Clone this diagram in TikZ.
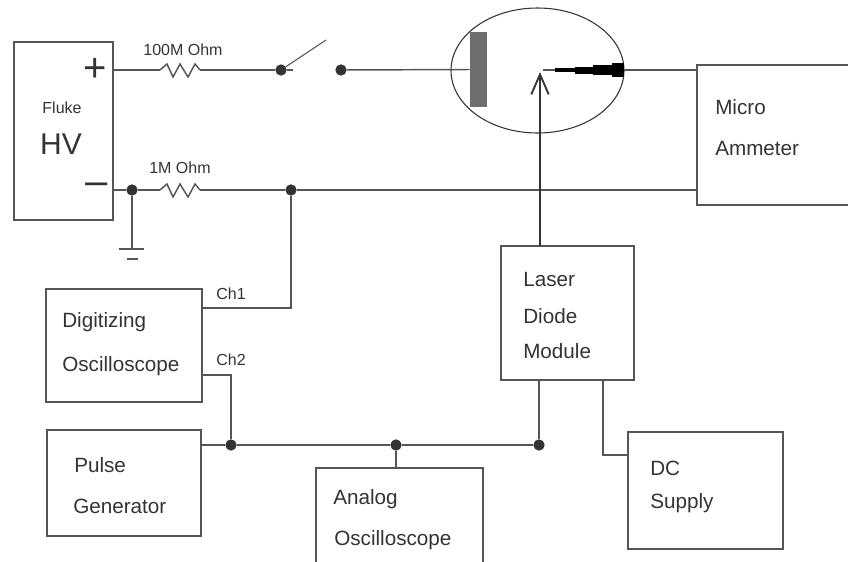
\documentclass[tikz,border=0pt]{standalone}
\usepackage{fontspec}
\setmainfont{Liberation Sans}
\usetikzlibrary{arrows.meta}
\usetikzlibrary{calc}
\usetikzlibrary{shapes.geometric}
\definecolor{wire}{HTML}{555555}
\definecolor{ink}{HTML}{333333}
\def\px{0.75pt}
\tikzstyle{block} = [draw=wire,line width=1.1pt,inner sep=0pt,outer sep=0pt]
\tikzstyle{dot} = [circle,fill=ink,inner sep=0pt,minimum size=8.5pt]
\tikzstyle{lbl} = [anchor=west,inner sep=0pt,text=ink,font=\fontsize{15.5pt}{18pt}\selectfont]
\tikzstyle{small} = [inner sep=0pt,text=ink,font=\fontsize{12pt}{14pt}\selectfont]
\tikzstyle{wireline} = [draw=wire,line width=1.1pt]
\tikzstyle{res} = [to path={-- ++(7,-6) -- ++(6,13) -- ++(7,-13) -- ++(8,13) -- ++(7,-13) -- (\tikztotarget)}]

\begin{document}
\begin{tikzpicture}[x=0.75pt,y=-0.75pt,>={Straight Barb[length=15pt,width=13pt]}]
\useasboundingbox (0,0) rectangle (848,561);
\clip (0,0) rectangle (848,561);

% Draw blocks
    \node[block,minimum width=99*\px,minimum height=178*\px] at (63.5,131) (hv) {};
    \node[block,minimum width=160*\px,minimum height=140*\px] at (777,135) (meter) {};
    \node[block,minimum width=133*\px,minimum height=134*\px] at (567.5,313) (laser) {};
    \node[block,minimum width=156*\px,minimum height=113*\px] at (124,345.5) (digi) {};
    \node[block,minimum width=154*\px,minimum height=106*\px] at (124,483) (pulse) {};
    \node[block,minimum width=167*\px,minimum height=112*\px] at (399.5,524) (analog) {};
    \node[block,minimum width=155*\px,minimum height=117*\px] at (705.5,490.5) (dc) {};

% Labels
    \node[small] at (62,108) (flukelbl) {Fluke};
    \node[inner sep=0pt,text=ink,font=\fontsize{22.5pt}{26pt}\selectfont] at (61,144) (hvlbl) {HV};
    \node[inner sep=0pt,text=ink,font=\fontsize{30pt}{32pt}\selectfont] at (95,70) (pluslbl) {+};
    \node[inner sep=0pt,text=ink,font=\fontsize{30pt}{32pt}\selectfont] at (97,189) (minuslbl) {–};
    \node[small] at (183,50) (rtoplbl) {100M Ohm};
    \node[small] at (180,168) (rlowlbl) {1M Ohm};
    \node[small] at (231,294) (chonelbl) {Ch1};
    \node[small] at (231,360) (chtwolbl) {Ch2};
    \node[lbl] at (715,107) (microlbl) {Micro};
    \node[lbl] at (715,148) (ammlbl) {Ammeter};
    \node[lbl] at (523,279) (laserlbl) {Laser};
    \node[lbl] at (523,316) (diodelbl) {Diode};
    \node[lbl] at (523,351) (modlbl) {Module};
    \node[lbl] at (62,322) (digilbl) {Digitizing};
    \node[lbl] at (62,366) (oscilbl) {Oscilloscope};
    \node[lbl] at (74,465) (pulselbl) {Pulse};
    \node[lbl] at (73,506) (genlbl) {Generator};
    \node[lbl] at (333,499) (analbl) {Analog};
    \node[lbl] at (334,540) (anoscilbl) {Oscilloscope};
    \node[lbl] at (650,468) (dclbl) {DC};
    \node[lbl] at (650,503) (supplbl) {Supply};

% Junctions
    \node[dot] at (281,70) (swa) {};
    \node[dot] at (341,70) (swb) {};
    \node[dot] at (132,190) (gnd) {};
    \node[dot] at (291,190) (chone) {};
    \node[dot] at (231,445) (chtwo) {};
    \node[dot] at (396,445) (ana) {};
    \node[dot] at (539,445) (las) {};
    \coordinate (rta) at (160,70);
    \coordinate (rtb) at (200,70);
    \coordinate (rla) at (160,190);
    \coordinate (rlb) at (200,190);
    \coordinate (swtip) at (326,40);
    \coordinate (swstub) at (293,70);
    \coordinate (gndb) at (132,249);
    \coordinate (gndl) at (119,249);
    \coordinate (gndr) at (144,249);
    \coordinate (gndc) at (127,259);
    \coordinate (gndd) at (138,259);

% Tube
    \node[draw=ink,line width=0.8pt,ellipse,inner sep=0pt,outer sep=0pt,minimum width=173*\px,minimum height=125*\px] at (537.5,70.5) (tube) {};
    \node[fill=wire!85!white,inner sep=0pt,minimum width=17*\px,minimum height=75*\px] at (478.5,69.5) (plate) {};
    \coordinate (tip) at (543,70);
    \node[fill=black,inner sep=0pt,minimum width=20*\px,minimum height=4*\px] at (565,70) (nda) {};
    \node[fill=black,inner sep=0pt,minimum width=18*\px,minimum height=7*\px] at (584,70) (ndb) {};
    \node[fill=black,inner sep=0pt,minimum width=19*\px,minimum height=10*\px] at (602.5,70) (ndc) {};
    \node[fill=black,inner sep=0pt,minimum width=12*\px,minimum height=14*\px] at (618,70) (ndd) {};

% Wires
    \draw[wireline] (hv.east |- rta) -- (rta);
    \draw[wireline] (rta) to[res] (rtb);
    \draw[wireline] (rtb) -- (swa);
    \draw[wireline] (swa) -- (swstub);
    \draw[wireline,line width=0.8pt] (swa) -- (swtip);
    \draw[wireline] (swb) -- (plate.west);
    \draw[wireline,line width=0.8pt] (tip) -- (nda.west);
    \draw[wireline] (ndd.east) -- (meter.west |- ndd);
    \draw[wireline] (hv.east |- gnd) -- (gnd);
    \draw[wireline] (gnd) -- (rla);
    \draw[wireline] (rla) to[res] (rlb);
    \draw[wireline] (rlb) -- (chone);
    \draw[wireline] (chone) -- (meter.west |- chone);
    \draw[wireline] (gnd) -- (gndb);
    \draw[wireline] (gndl) -- (gndr);
    \draw[wireline] (gndc) -- (gndd);
    \draw[wireline] (chone) -- (chone |- 0,308) -- (digi.east |- 0,308);
    \draw[wireline] (digi.east |- 0,375) -- (chtwo |- 0,375) -- (chtwo);
    \draw[wireline] (pulse.east |- chtwo) -- (chtwo);
    \draw[wireline] (chtwo) -- (ana);
    \draw[wireline] (ana) -- (las);
    \draw[wireline] (ana) -- (ana |- analog.north);
    \draw[wireline] (las) -- (las |- laser.south);
    \draw[wireline] (603,380) -- (603,455) -- (dc.west |- 0,455);
    \draw[->,wireline,line width=1.4pt,draw=ink] (540,246) -- (540,72);

\end{tikzpicture}
\end{document}
